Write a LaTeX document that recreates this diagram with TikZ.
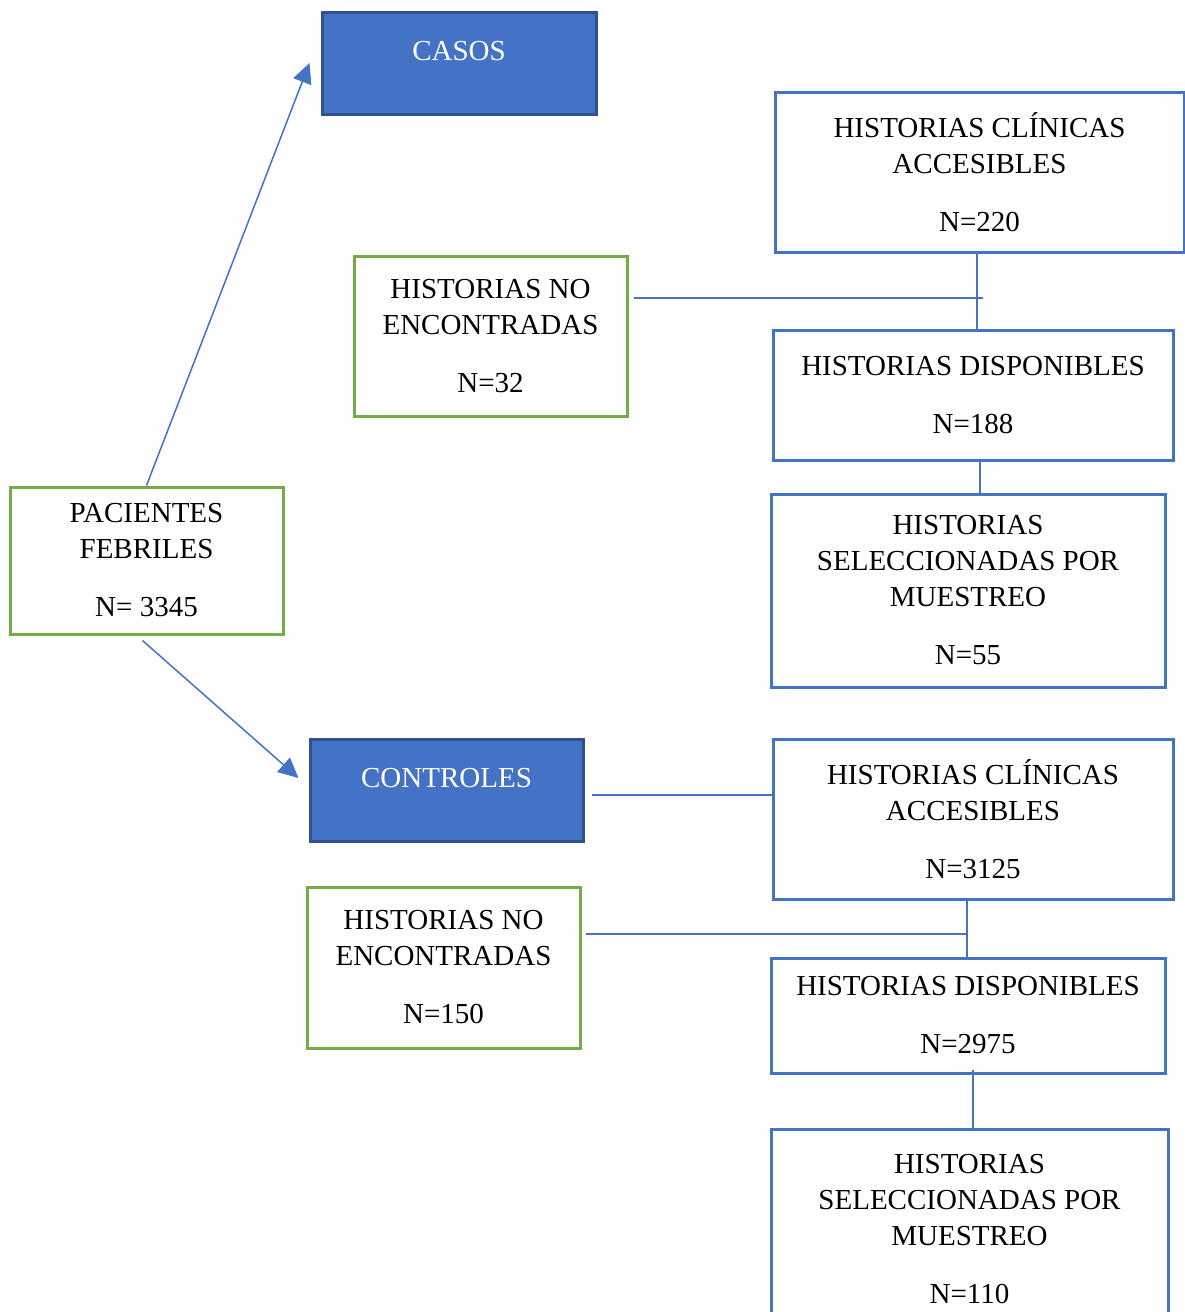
\documentclass[tikz,border=0pt]{standalone}
\usepackage{fontspec}
\setmainfont{Liberation Serif}
\usetikzlibrary{arrows.meta}
\definecolor{boxblue}{HTML}{4472C4}
\definecolor{darkblue}{HTML}{2F528F}
\definecolor{boxgreen}{HTML}{70AD47}
\begin{document}
\begin{tikzpicture}[x=1pt, y=-1pt,
  every node/.style = {shape=rectangle, align=center,
    font=\fontsize{29}{36}\selectfont},
  groupbox/.style = {draw=darkblue, fill=boxblue, text=white, line width=3pt,
    text height=19pt, text depth=24pt},
  bluebox/.style = {draw=boxblue, fill=white, line width=3pt},
  greenbox/.style = {draw=boxgreen, fill=white, line width=3pt},
  link/.style = {draw=boxblue, line width=1.5pt},
  arrow/.style = {link, -{Triangle[length=20pt,width=19pt]}}]
  \useasboundingbox (0,0) rectangle (1184,1312);
  \node[groupbox, minimum width=274pt, minimum height=102pt] (casos) at (459,63) {CASOS};
  \node[bluebox, minimum width=409pt, minimum height=160pt] (acc1) at (979.5,172)
    {HISTORIAS CLÍNICAS\\ACCESIBLES\\[22pt]N=220};
  \node[greenbox, minimum width=273pt, minimum height=160pt] (nof1) at (490.5,336)
    {HISTORIAS NO\\ENCONTRADAS\\[22pt]N=32};
  \node[bluebox, minimum width=400pt, minimum height=130pt] (disp1) at (973,395)
    {HISTORIAS DISPONIBLES\\[22pt]N=188};
  \node[bluebox, minimum width=394pt, minimum height=193pt] (sel1) at (968,590.5)
    {HISTORIAS\\SELECCIONADAS POR\\MUESTREO\\[22pt]N=55};
  \node[greenbox, minimum width=273pt, minimum height=147pt] (pac) at (146.5,560.5)
    {PACIENTES\\FEBRILES\\[22pt]N= 3345};
  \node[groupbox, minimum width=273pt, minimum height=102pt] (ctrl) at (446.5,790) {CONTROLES};
  \node[bluebox, minimum width=400pt, minimum height=160pt] (acc2) at (973,819)
    {HISTORIAS CLÍNICAS\\ACCESIBLES\\[22pt]N=3125};
  \node[greenbox, minimum width=273pt, minimum height=161pt] (nof2) at (443.5,967.5)
    {HISTORIAS NO\\ENCONTRADAS\\[22pt]N=150};
  \node[bluebox, minimum width=394pt, minimum height=115pt] (disp2) at (968,1015.5)
    {HISTORIAS DISPONIBLES\\[22pt]N=2975};
  \node[bluebox, minimum width=397pt, minimum height=201pt] (sel2) at (969.5,1229.5)
    {HISTORIAS\\SELECCIONADAS POR\\MUESTREO\\[22pt]N=110};
  \draw[arrow] (pac.north) -- ([xshift=-11pt]casos.west);
  \draw[arrow] ([xshift=-4pt,yshift=-5pt]pac.south) -- ([xshift=-10pt,yshift=12pt]ctrl.west);
  \draw[link] ([xshift=-2.5pt]acc1.south) -- ([xshift=-2.5pt]acc1.south |- disp1.north);
  \coordinate (h1) at ([xshift=5pt,yshift=38pt]nof1.east);
  \coordinate (j1) at (h1 -| acc1.south);
  \draw[link] (h1) -- ([xshift=3pt]j1);
  \draw[link] ([xshift=7pt]disp1.south) -- ([xshift=7pt]disp1.south |- sel1.north);
  \coordinate (h2) at ([xshift=7pt,yshift=-5pt]ctrl.east);
  \draw[link] (h2) -- (h2 -| acc2.west);
  \draw[link] ([xshift=-6pt]acc2.south) -- ([xshift=-6pt]acc2.south |- disp2.north);
  \coordinate (h3) at ([xshift=4pt,yshift=33.5pt]nof2.east);
  \coordinate (j3) at ([xshift=-6pt]acc2.south);
  \draw[link] (h3) -- (h3 -| j3);
  \draw[link] ([xshift=5pt,yshift=5pt]disp2.south) -- ([xshift=5pt]disp2.south |- sel2.north);
\end{tikzpicture}
\end{document}
